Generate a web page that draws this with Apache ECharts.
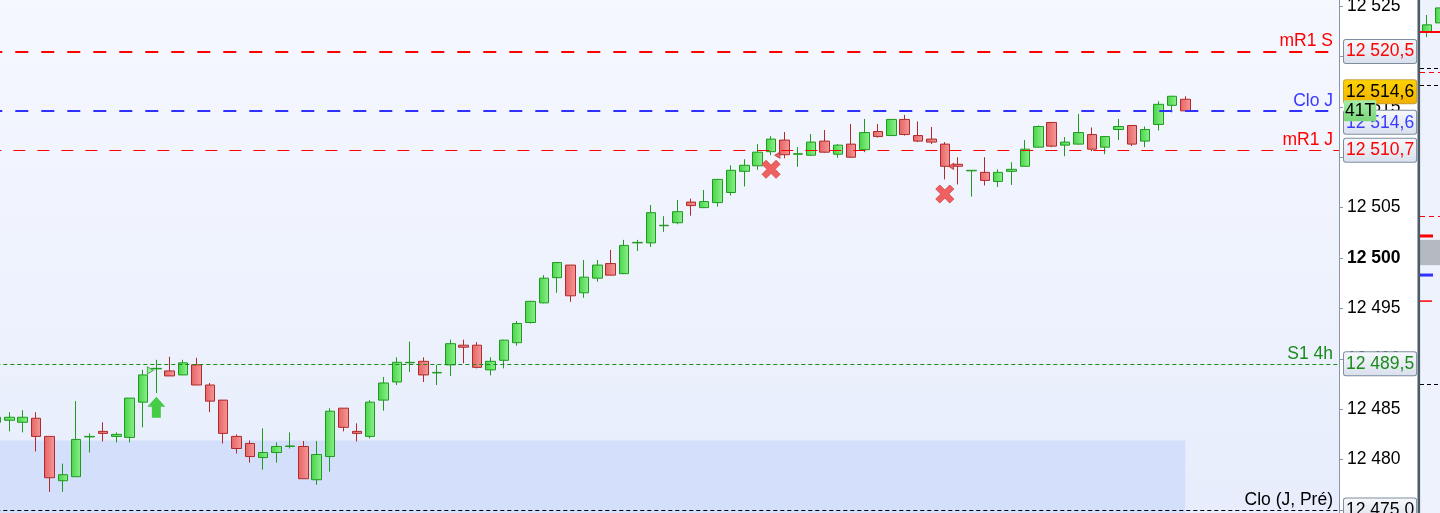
<!DOCTYPE html>
<html><head><meta charset="utf-8">
<script src="https://cdn.jsdelivr.net/npm/echarts/dist/echarts.min.js"></script>
<style>html,body{margin:0;padding:0;background:#fff}#c{width:1440px;height:513px}</style>
</head><body><div id="c"></div>
<script>
// ---------- main chart data (1 candle per slot) ----------
const opens = [12483.7,12483.9,12483.7,12484.1,12482.3,12477.9,12478.3,12482.25,12482.8,12482.3,
12482.2,12485.7,12489.0,12488.8,12488.4,12489.4,12487.4,12485.9,12482.3,12481.6,
12480.2,12480.7,12481.3,12481.3,12478.0,12480.3,12485.1,12482.8,12482.3,12485.9,
12487.7,12489.6,12489.75,12488.6,12489.4,12491.35,12491.35,12488.9,12489.85,12491.6,
12493.6,12495.55,12498.05,12499.3,12496.55,12498.0,12499.45,12498.45,12501.5,12501.5,
12503.2,12503.5,12505.55,12505.0,12505.5,12506.5,12508.6,12509.15,12510.55,12511.7,
12510.3,12510.2,12511.6,12510.3,12511.3,12510.75,12512.55,12512.15,12513.75,12512.15,
12511.8,12511.3,12509.3,12508.65,12508.5,12507.6,12508.6,12509.1,12511.0,12513.45,
12511.2,12511.3,12512.25,12511.0,12512.75,12513.15,12511.6,12513.25,12515.15,12515.75];
const closes = [12484.2,12484.2,12484.2,12482.3,12478.2,12478.5,12482.0,12482.3,12482.6,12482.5,
12486.1,12488.4,12489.05,12488.3,12489.6,12487.4,12485.8,12482.6,12481.1,12480.3,
12480.7,12481.3,12481.35,12478.1,12480.5,12484.8,12483.2,12482.6,12485.7,12487.6,
12489.65,12489.65,12488.4,12488.65,12491.5,12491.15,12489.15,12489.75,12491.85,12493.5,
12495.7,12498.0,12499.55,12496.25,12498.1,12499.3,12498.3,12501.25,12501.55,12504.5,
12503.25,12504.6,12505.2,12505.6,12507.8,12508.7,12509.2,12510.5,12511.8,12510.25,
12510.35,12511.5,12510.5,12511.2,12510.0,12512.45,12512.05,12513.75,12512.25,12511.6,
12511.5,12509.1,12509.1,12508.7,12507.7,12508.5,12508.8,12510.8,12513.05,12511.1,
12511.5,12512.45,12510.8,12512.05,12513.05,12511.3,12512.75,12515.25,12516.05,12514.6];
const lows = [12483.6,12482.8,12482.7,12480.8,12476.8,12476.8,12478.3,12480.7,12481.8,12481.7,
12481.7,12483.2,12486.6,12488.3,12488.4,12487.4,12484.7,12481.6,12480.6,12479.7,
12479.0,12479.7,12481.1,12478.1,12477.5,12478.8,12482.8,12481.8,12482.1,12484.85,
12487.4,12488.7,12487.7,12487.4,12488.3,12489.55,12489.05,12488.35,12489.05,12491.3,
12493.5,12495.5,12496.55,12495.65,12496.05,12497.65,12498.3,12498.4,12500.7,12501.1,
12502.6,12503.35,12504.2,12504.95,12505.1,12506.2,12507.1,12508.75,12510.2,12509.9,
12509.05,12510.15,12510.45,12509.95,12509.95,12510.5,12511.95,12512.1,12512.15,12511.5,
12511.3,12507.8,12507.3,12506.1,12507.2,12507.05,12507.25,12509.05,12510.95,12511.0,
12510.1,12511.25,12510.6,12510.3,12511.7,12511.1,12511.0,12512.65,12514.45,12514.5];
const highs = [12484.3,12484.7,12484.9,12484.7,12482.3,12479.6,12485.8,12482.6,12483.7,12482.7,
12486.1,12488.9,12489.9,12490.2,12489.9,12490.1,12487.6,12485.9,12482.5,12481.9,
12483.1,12481.7,12482.7,12481.85,12481.85,12485.1,12485.1,12483.6,12485.9,12488.2,
12490.15,12491.7,12490.15,12489.4,12491.9,12491.9,12491.65,12490.15,12491.9,12493.75,
12495.75,12498.3,12499.6,12499.3,12499.8,12499.8,12500.8,12501.8,12501.8,12505.25,
12504.15,12505.75,12505.9,12506.75,12507.85,12509.2,12509.8,12511.3,12512.1,12512.5,
12511.0,12512.3,12512.7,12511.3,12513.3,12513.8,12513.3,12513.8,12514.2,12513.55,
12513.0,12511.5,12510.0,12508.7,12510.0,12508.8,12509.5,12511.7,12513.15,12513.5,
12512.0,12514.3,12512.95,12512.1,12513.8,12513.2,12513.05,12515.55,12516.1,12516.05];
const emptySlots = 11;
const yMin = 12474.7, yMax = 12525.6;

const levelNames  = ['mR1 S', 'Clo J', 'mR1 J', 'S1 4h', 'Clo (J, Pré)'];
const levelValues = [12520.5, 12514.6, 12510.7, 12489.5, 12475.0];
const lastPrice = 12514.6;
const tickCountText = '41T';
const zoneRange = [12481.9, 12474.7];   // shaded zone (value)
const zoneEndIndex = 89;

const crossPoints = [[58, 12508.8], [71, 12506.35]];
const arrowPoints = [[12, 12485.2]];
const greenFlags  = [[12, 12488.85]];
const redFlags    = [[59, 12510.2], [72, 12509.1]];

// ---------- right mini panel ----------
const miniCats = ['A', 'B'];
const miniOpens = [12531.9, 12534.2], miniCloses = [12533.7, 12538.0];
const miniLows = [12530.6, 12533.9], miniHighs = [12536.2, 12539.3];
const miniRedSolid = 12531.9;
const miniBlackDashed = [12522.8, 12518.5, 12442.7];
const miniRedDashed = [12521.8, 12485.3];
const miniZone = [12479.2, 12472.8];
const miniShortRed = 12480.2, miniShortBlue = 12470.3, miniShortRedThin = 12463.7;

const FONT = '"Liberation Sans", Arial, sans-serif';
const FS = 17.5;
const G = echarts.graphic.LinearGradient;
const fmtTick = v => String(Math.round(v)).replace(/\B(?=(\d{3})+(?!\d))/g, ' ');
const fmtPrice = v => { const s = v.toFixed(1).split('.'); return s[0].replace(/\B(?=(\d{3})+(?!\d))/g, ' ') + ',' + s[1]; };

const categories = [];
for (let i = 0; i < opens.length + emptySlots; i++) categories.push(String(i));
const candleData = opens.map((o, i) => [o, closes[i], lows[i], highs[i]]);

const lineStyles = [
  {color: '#ff0000', width: 2, type: [13, 13]},
  {color: '#3030ff', width: 2, type: [13, 13]},
  {color: '#ff0000', width: 1, type: [12, 12]},
  {color: '#1a8a1a', width: 1, type: [4, 3]},
  {color: '#000000', width: 1, type: [4, 3]}
];
const textColors = ['#ff0000', '#3a3aff', '#ff0000', '#1a8a1a', '#000000'];
const boxGrad = () => new G(0, 0, 0, 1, [{offset: 0, color: '#f7f9fd'}, {offset: 1, color: '#d9e0ec'}]);
const hiddenLine = {color: 'rgba(0,0,0,0)', width: 0, opacity: 1};

const mlData = [];
levelValues.forEach((v, i) => {
  mlData.push({
    yAxis: v, lineStyle: lineStyles[i],
    label: {show: true, position: 'insideEndTop', distance: [6, 1], formatter: levelNames[i],
      color: textColors[i], fontSize: FS, fontFamily: FONT}
  });
});
levelValues.forEach((v, i) => {
  mlData.push({
    yAxis: v, lineStyle: hiddenLine,
    label: {show: true, opacity: 1, position: 'end', distance: 5, formatter: fmtPrice(v),
      verticalAlign: i === 1 ? 'top' : 'middle',
      color: textColors[i], fontSize: FS, fontFamily: FONT, lineHeight: 18,
      backgroundColor: boxGrad(), borderColor: '#7d8da0', borderWidth: 1, borderRadius: 2,
      padding: [3, 2, 2, 2]}
  });
});
// current price (yellow) box
mlData.push({
  yAxis: lastPrice, lineStyle: hiddenLine,
  label: {show: true, opacity: 1, position: 'end', distance: 5, verticalAlign: 'bottom',
    formatter: '{y|' + fmtPrice(lastPrice) + '}', padding: [0, 0, 10, 0],
    rich: {y: {color: '#000', fontSize: FS, fontFamily: FONT, lineHeight: 18,
      backgroundColor: new G(0, 0, 0, 1, [{offset: 0, color: '#ffd400'}, {offset: 1, color: '#f0b000'}]),
      borderColor: '#c9a23a', borderWidth: 1, borderRadius: 2, padding: [3, 2, 2, 2]}}}
});
// tick counter box
mlData.push({
  yAxis: lastPrice, lineStyle: hiddenLine,
  label: {show: true, opacity: 1, position: 'end', distance: 5, formatter: tickCountText,
    color: '#000', fontSize: FS, fontFamily: FONT, lineHeight: 18,
    backgroundColor: new G(0, 0, 0, 1, [{offset: 0, color: '#a6eca6'}, {offset: 1, color: '#7ad67a'}]),
    borderRadius: 1, padding: [2, 1, 1, 1]}
});

const miniMl = [{yAxis: miniRedSolid, lineStyle: {color: '#ff0000', width: 2, type: 'solid'}}];
miniBlackDashed.forEach(v => miniMl.push({yAxis: v, lineStyle: {color: '#000', width: 1, type: [4, 3]}}));
miniRedDashed.forEach(v => miniMl.push({yAxis: v, lineStyle: {color: '#ff0000', width: 1, type: [5, 4]}}));

const greenGrad = new G(0, 0, 1, 0, [{offset: 0, color: '#45d445'}, {offset: 1, color: '#90f090'}]);
const redGrad = new G(0, 0, 1, 0, [{offset: 0, color: '#e66262'}, {offset: 1, color: '#f59a9a'}]);
const candleStyle = {color: greenGrad, color0: redGrad, borderColor: '#1f9a1f', borderColor0: '#b02a2a', borderWidth: 1};

const chart = echarts.init(document.getElementById('c'), null, {renderer: 'canvas'});
chart.setOption({
  animation: false,
  backgroundColor: '#ffffff',
  grid: [
    {left: -10.7, right: 101, top: 0, bottom: 0, show: true, borderWidth: 0, outerBoundsMode: 'none',
      backgroundColor: new G(0, 0, 0, 1, [{offset: 0, color: '#f6f8ff'}, {offset: 1, color: '#e7edfc'}])},
    {left: 1420, right: -7, top: 0, bottom: 0, show: true, borderWidth: 0, outerBoundsMode: 'none',
      backgroundColor: '#eef2fc'}
  ],
  xAxis: [
    {type: 'category', gridIndex: 0, data: categories, boundaryGap: true, show: false},
    {type: 'category', gridIndex: 1, data: miniCats, boundaryGap: true, show: false},
    {type: 'value', gridIndex: 1, min: 0, max: 27, show: false}
  ],
  yAxis: [
    {type: 'value', gridIndex: 0, position: 'right', min: yMin, max: yMax, splitNumber: 10,
      minInterval: 5, maxInterval: 5, scale: true,
      axisLine: {show: true, lineStyle: {color: '#8796a8', width: 1}},
      axisTick: {show: true, length: 4, lineStyle: {color: '#8796a8'}},
      splitLine: {show: false},
      axisLabel: {show: true, margin: 8, color: '#000', fontSize: FS, fontFamily: FONT,
        showMinLabel: false, showMaxLabel: false, hideOverlap: false,
        formatter: v => Math.round(v) === 12500 ? '{b|' + fmtTick(v) + '}' : fmtTick(v),
        rich: {b: {fontWeight: 'bold', fontSize: FS, fontFamily: FONT, color: '#000'}}}},
    {type: 'value', gridIndex: 1, min: 12410, max: 12540, show: false, scale: true}
  ],
  graphic: [
    {type: 'rect', left: 1417.5, top: 0, shape: {width: 2.6, height: 513}, style: {fill: '#4b5b67'}, z: 100, silent: true}
  ],
  series: [
    {type: 'candlestick', xAxisIndex: 0, yAxisIndex: 0, data: candleData, barWidth: 10, clip: false,
      itemStyle: candleStyle, emphasis: {disabled: true}, silent: true,
      markArea: {silent: true, itemStyle: {color: '#d4e0fb'},
        data: [[{xAxis: 0, yAxis: zoneRange[0]}, {xAxis: zoneEndIndex, yAxis: zoneRange[1]}]]},
      markLine: {silent: true, symbol: ['none', 'none'], animation: false, emphasis: {disabled: true}, data: mlData}},
    {type: 'scatter', xAxisIndex: 0, yAxisIndex: 0, data: crossPoints, silent: true, z: 5,
      symbol: 'path://M0,4 L4,0 L9,5 L14,0 L18,4 L13,9 L18,14 L14,18 L9,13 L4,18 L0,14 L5,9 Z',
      symbolSize: 18, itemStyle: {color: '#ee5858', borderColor: '#d84a4a', borderWidth: 1, opacity: 0.95}},
    {type: 'scatter', xAxisIndex: 0, yAxisIndex: 0, data: arrowPoints, silent: true, z: 5,
      symbol: 'path://M9,0 L18,10 L13.5,10 L13.5,21 L4.5,21 L4.5,10 L0,10 Z',
      symbolSize: [18, 21], itemStyle: {color: '#3cc83c', opacity: 0.95}},
    {type: 'scatter', xAxisIndex: 0, yAxisIndex: 0, data: greenFlags, silent: true, z: 5,
      symbol: 'triangle', symbolSize: [7, 6], symbolRotate: -90, symbolOffset: [-6, 0],
      itemStyle: {color: '#8ee88e', borderColor: '#22a022', borderWidth: 1}},
    {type: 'scatter', xAxisIndex: 0, yAxisIndex: 0, data: redFlags, silent: true, z: 5,
      symbol: 'triangle', symbolSize: [6, 5], symbolRotate: 90, symbolOffset: [-7, 0],
      itemStyle: {color: '#e04848', borderColor: '#c03030', borderWidth: 1}},
    // mini panel
    {type: 'candlestick', xAxisIndex: 1, yAxisIndex: 1, barWidth: 10, silent: true,
      data: miniOpens.map((o, i) => [o, miniCloses[i], miniLows[i], miniHighs[i]]),
      itemStyle: candleStyle,
      markArea: {silent: true, itemStyle: {color: '#b5b9c1'},
        data: [[{yAxis: miniZone[0]}, {yAxis: miniZone[1]}]]},
      markLine: {silent: true, symbol: ['none', 'none'], label: {show: false}, data: miniMl}},
    {type: 'line', xAxisIndex: 2, yAxisIndex: 1, silent: true, symbol: 'none',
      data: [[0, miniShortRed], [13, miniShortRed]], lineStyle: {color: '#ff0000', width: 3}},
    {type: 'line', xAxisIndex: 2, yAxisIndex: 1, silent: true, symbol: 'none',
      data: [[0, miniShortBlue], [13, miniShortBlue]], lineStyle: {color: '#3030ff', width: 3}},
    {type: 'line', xAxisIndex: 2, yAxisIndex: 1, silent: true, symbol: 'none',
      data: [[0, miniShortRedThin], [12, miniShortRedThin]], lineStyle: {color: '#ff0000', width: 1.5}}
  ]
});
</script></body></html>
